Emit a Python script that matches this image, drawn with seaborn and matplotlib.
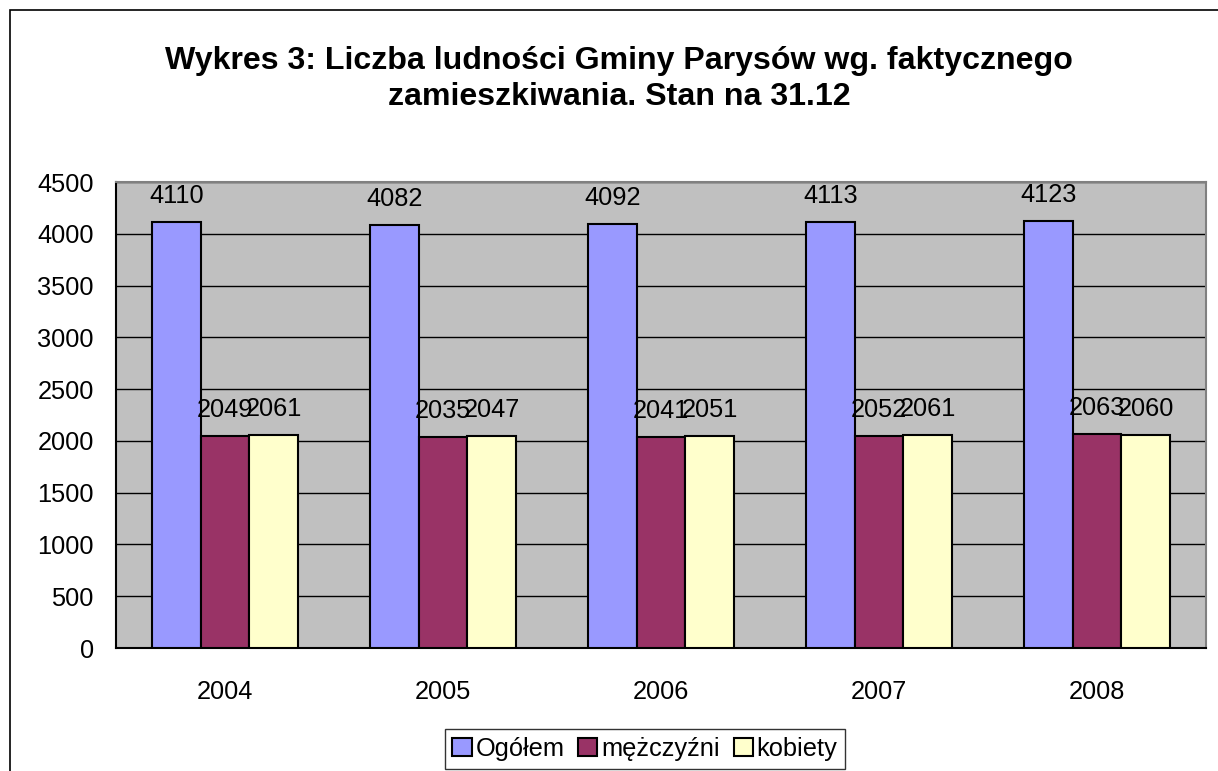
import numpy as np
import matplotlib
matplotlib.use("Agg")
import matplotlib.pyplot as plt
import seaborn as sns
import pandas as pd
from matplotlib.patches import Rectangle

years = ["2004", "2005", "2006", "2007", "2008"]
ogolem = [4110, 4082, 4092, 4113, 4123]
mezczyzni = [2049, 2035, 2041, 2052, 2063]
kobiety = [2061, 2047, 2051, 2061, 2060]
series_names = ["Ogółem", "mężczyźni", "kobiety"]
colors = ["#9999FF", "#993366", "#FFFFCC"]

df = pd.DataFrame({
    "rok": years * 3,
    "seria": [series_names[0]] * 5 + [series_names[1]] * 5 + [series_names[2]] * 5,
    "wartosc": ogolem + mezczyzni + kobiety,
})

sns.set_style("white")
plt.rcParams['font.family'] = ['Liberation Sans', 'DejaVu Sans']
plt.rcParams['text.color'] = 'black'
plt.rcParams['xtick.color'] = 'black'
plt.rcParams['ytick.color'] = 'black'

fs = 18.3

fig = plt.figure(figsize=(12.18, 7.71), dpi=100)
ax = fig.add_axes([116 / 1218, 1 - 648 / 771, 1090 / 1218, 466 / 771])

sns.barplot(data=df, x="rok", y="wartosc", hue="seria", palette=colors,
            width=0.667, edgecolor="black", linewidth=1.5, saturation=1,
            ax=ax, legend=True, zorder=3)

ax.set_facecolor("#C0C0C0")
ax.set_ylim(0, 4500)
ax.set_xlim(-0.5, 4.5)
ax.set_yticks(range(0, 4501, 500))
ax.yaxis.grid(True, color="black", linewidth=1, zorder=0)
ax.set_axisbelow(True)
ax.set_xlabel("")
ax.set_ylabel("")
for s in ax.spines.values():
    s.set_color("#808080")
    s.set_linewidth(1.5)
ax.spines["bottom"].set_color("black")
ax.spines["left"].set_color("black")

# ticks on category boundaries, year labels centred in categories
ax.set_xticks(np.arange(-0.5, 5, 1), minor=False)
ax.set_xticklabels([""] * 6)
ax.set_xticks(range(5), minor=True)
ax.set_xticklabels(years, minor=True)
ax.tick_params(axis="x", which="major", direction="out", length=8, width=1)
ax.tick_params(axis="x", which="minor", length=0, pad=23, labelsize=fs)
ax.tick_params(axis="y", direction="out", length=7, width=1, labelsize=fs, pad=9)

for c in ax.containers:
    ax.bar_label(c, labels=[str(int(v)) for v in c.datavalues], fontsize=fs, padding=10)

handles, labels = ax.get_legend_handles_labels()
ax.legend(handles, labels, loc="center", bbox_to_anchor=(645 / 1218, 1 - 749 / 771),
          bbox_transform=fig.transFigure, ncol=3, fontsize=fs, frameon=True,
          fancybox=False, edgecolor="black", handlelength=0.75, handleheight=0.75,
          handletextpad=0.15, columnspacing=0.55, borderpad=0.3)
ax.get_legend().get_frame().set_linewidth(1)

fig.text(619 / 1218, 1 - 79 / 771,
         "Wykres 3: Liczba ludności Gminy Parysów wg. faktycznego\nzamieszkiwania. Stan na 31.12",
         ha="center", va="center", fontsize=23.1, fontweight="bold", linespacing=1.3)

fig.patches.append(Rectangle((10 / 1218, -0.1), 1.2, 1 - 10 / 771 + 0.1,
                             transform=fig.transFigure, fill=False,
                             edgecolor="black", linewidth=1.2))

fig.savefig("out.png", dpi=100)
